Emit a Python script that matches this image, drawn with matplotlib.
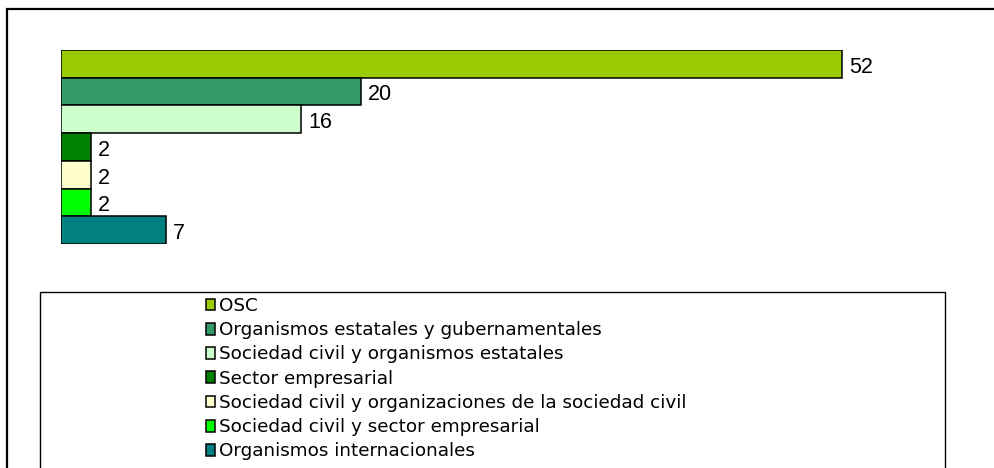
import matplotlib
matplotlib.use("Agg")
import matplotlib.pyplot as plt
from matplotlib.patches import Rectangle, Patch

categorias = ["OSC", "Organismos estatales y gubernamentales", "Sociedad civil y organismos estatales",
              "Sector empresarial", "Sociedad civil y organizaciones de la sociedad civil",
              "Sociedad civil y sector empresarial", "Organismos internacionales"]
valores = [52, 20, 16, 2, 2, 2, 7]
colores = ["#99cc00", "#339966", "#ccffcc", "#008000", "#ffffcc", "#00ff00", "#008080"]

W, H = 995, 468
fig = plt.figure(figsize=(W / 100, H / 100), dpi=100)

def fx(px): return px / W
def fy(py): return 1 - py / H

# outer chart frame
fig.add_artist(Rectangle((fx(7), fy(480)), fx(1000) - fx(7), fy(9) - fy(480), transform=fig.transFigure,
                         fill=False, edgecolor="black", lw=1.6))
# legend frame
fig.add_artist(Rectangle((fx(40), fy(480)), fx(945) - fx(40), fy(292) - fy(480), transform=fig.transFigure,
                         fill=False, edgecolor="black", lw=1.0))

ax = fig.add_axes([fx(61), fy(244), 60 * 15.02 / W, (244 - 50) / H])
y = list(range(len(valores)))
ax.barh(y, valores, height=1.0, color=colores, edgecolor="black", lw=1.1)
ax.set_xlim(0, 60)
ax.set_ylim(len(valores) - 0.5, -0.5)
ax.axis("off")
for i, v in enumerate(valores):
    ax.text(v + 0.45, i + 0.12, str(v), va="center", ha="left", fontsize=15.5, family="Liberation Sans")

handles = [Patch(facecolor=c, edgecolor="black", lw=1.1) for c in colores]
fig.legend(handles, categorias, loc="upper left", bbox_to_anchor=(fx(206), fy(297)), frameon=False,
           handlelength=0.5, handleheight=0.6, handletextpad=0.22, labelspacing=0.34,
           borderaxespad=0, borderpad=0,
           prop={"family": "DejaVu Sans", "size": 13.2})

fig.savefig("out.png", dpi=100, facecolor="white")
